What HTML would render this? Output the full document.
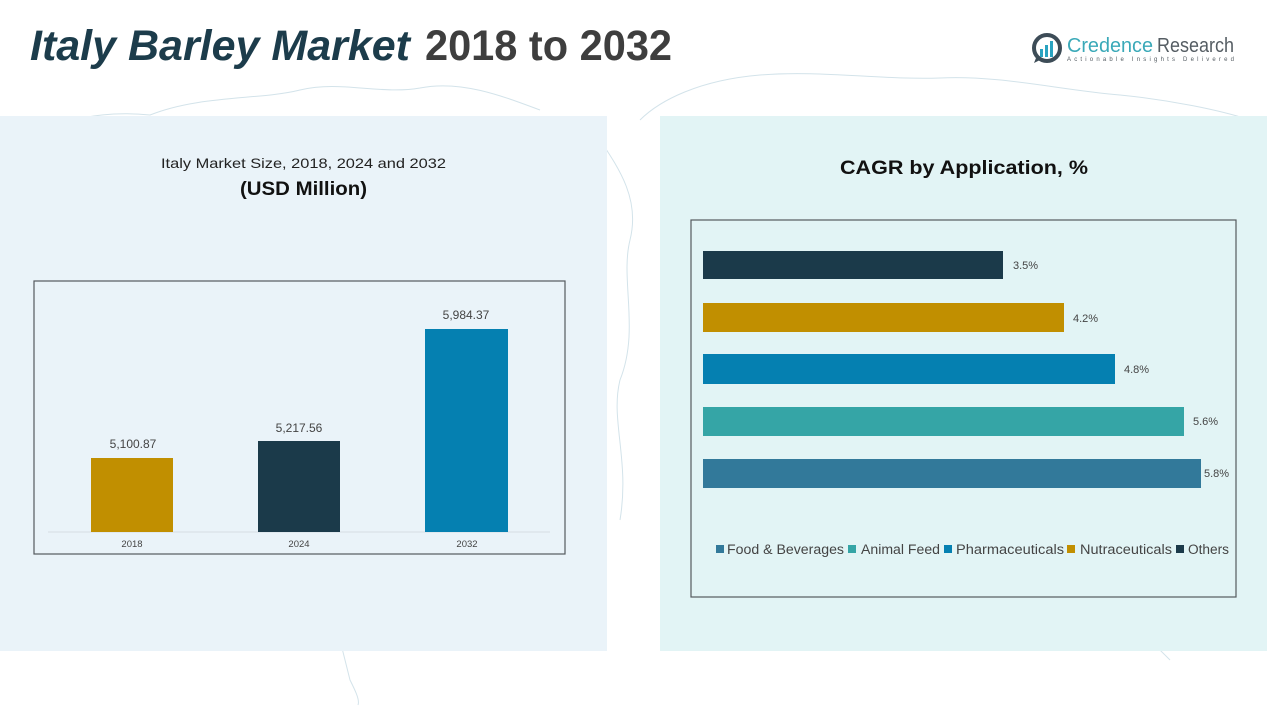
<!DOCTYPE html>
<html>
<head>
<meta charset="utf-8">
<style>
html,body{margin:0;padding:0;background:#ffffff;}
svg{display:block;}
text{font-family:"Liberation Sans","DejaVu Sans",sans-serif;}
</style>
</head>
<body>
<svg width="1267" height="713" viewBox="0 0 1267 713" xmlns="http://www.w3.org/2000/svg">
  <rect x="0" y="0" width="1267" height="713" fill="#ffffff"/>

  <!-- faint map outlines -->
  <g fill="none" stroke="#d3e3ea" stroke-width="1">
    <path d="M20 140 C60 120 100 110 150 115 C200 95 260 100 300 90 C340 80 380 95 420 88 C460 80 500 95 540 110"/>
    <path d="M640 120 C660 100 700 80 760 75 C820 70 880 80 940 78 C1000 75 1060 90 1120 95 C1170 100 1220 110 1250 120"/>
    <path d="M600 140 C620 170 640 200 630 240 C620 280 640 330 620 380 C610 420 630 460 620 520"/>
    <path d="M320 560 C330 600 340 640 350 680 C355 690 360 700 358 705"/>
    <path d="M1100 600 C1130 620 1150 640 1170 660"/>
  </g>

  <!-- panels -->
  <rect x="0" y="116" width="607" height="535" fill="#eaf3f9"/>
  <rect x="660" y="116" width="607" height="535" fill="#e2f4f5"/>

  <!-- title -->
  <text x="30" y="60" font-size="43" font-weight="bold" font-style="italic" fill="#1c3c4b" textLength="380" lengthAdjust="spacingAndGlyphs">Italy Barley Market</text>
  <text x="425" y="60" font-size="43" font-weight="bold" fill="#3e3e3e" textLength="247" lengthAdjust="spacingAndGlyphs">2018 to 2032</text>

  <!-- logo -->
  <circle cx="1047" cy="48" r="13" fill="none" stroke="#3d4c57" stroke-width="4"/>
  <path d="M1036 58 L1034 63 L1040 60 Z" fill="#3d4c57"/>
  <rect x="1040" y="49" width="3" height="8" fill="#2aa3c0"/>
  <rect x="1045" y="45" width="3" height="12" fill="#2aa3c0"/>
  <rect x="1050" y="41" width="3" height="16" fill="#2aa3c0"/>
  <text x="1067" y="52" font-size="20" fill="#3aa9b8" textLength="86" lengthAdjust="spacingAndGlyphs">Credence</text>
  <text x="1157" y="52" font-size="20" fill="#555d63" textLength="77" lengthAdjust="spacingAndGlyphs">Research</text>
  <text x="1067" y="61" font-size="6" fill="#555d63" textLength="167" lengthAdjust="spacing">Actionable Insights Delivered</text>

  <!-- left panel headings -->
  <text x="303.5" y="168" font-size="14" fill="#222" text-anchor="middle" textLength="285" lengthAdjust="spacingAndGlyphs">Italy Market Size, 2018, 2024 and 2032</text>
  <text x="303.5" y="195" font-size="19" font-weight="bold" fill="#111" text-anchor="middle" textLength="127" lengthAdjust="spacingAndGlyphs">(USD Million)</text>

  <!-- left chart box -->
  <rect x="34" y="281" width="531" height="273" fill="none" stroke="#555a5e" stroke-width="1.2"/>
  <line x1="48" y1="532" x2="550" y2="532" stroke="#d6dee4" stroke-width="1"/>
  <rect x="91" y="458" width="82" height="74" fill="#c18f00"/>
  <rect x="258" y="441" width="82" height="91" fill="#1b3a4a"/>
  <rect x="425" y="329" width="83" height="203" fill="#0580b1"/>
  <g font-size="12" fill="#444" text-anchor="middle">
    <text x="133" y="448">5,100.87</text>
    <text x="299" y="432">5,217.56</text>
    <text x="466" y="319">5,984.37</text>
  </g>
  <g font-size="9.5" fill="#444" text-anchor="middle">
    <text x="132" y="547">2018</text>
    <text x="299" y="547">2024</text>
    <text x="467" y="547">2032</text>
  </g>

  <!-- right panel heading -->
  <text x="964" y="174" font-size="19" font-weight="bold" fill="#111" text-anchor="middle" textLength="248" lengthAdjust="spacingAndGlyphs">CAGR by Application, %</text>

  <!-- right chart box -->
  <rect x="691" y="220" width="545" height="377" fill="none" stroke="#555a5e" stroke-width="1.2"/>
  <rect x="703" y="251" width="300" height="28" fill="#1b3a4a"/>
  <rect x="703" y="303" width="361" height="29" fill="#c18f00"/>
  <rect x="703" y="354" width="412" height="30" fill="#0580b1"/>
  <rect x="703" y="407" width="481" height="29" fill="#35a5a6"/>
  <rect x="703" y="459" width="498" height="29" fill="#32799a"/>
  <g font-size="11" fill="#444">
    <text x="1013" y="269">3.5%</text>
    <text x="1073" y="322">4.2%</text>
    <text x="1124" y="373">4.8%</text>
    <text x="1193" y="425">5.6%</text>
    <text x="1204" y="477">5.8%</text>
  </g>

  <!-- legend -->
  <rect x="716" y="545" width="8" height="8" fill="#32799a"/>
  <text x="727" y="554" font-size="13.5" fill="#444" textLength="117" lengthAdjust="spacingAndGlyphs">Food &amp; Beverages</text>
  <rect x="848" y="545" width="8" height="8" fill="#35a5a6"/>
  <text x="861" y="554" font-size="13.5" fill="#444" textLength="79" lengthAdjust="spacingAndGlyphs">Animal Feed</text>
  <rect x="944" y="545" width="8" height="8" fill="#0580b1"/>
  <text x="956" y="554" font-size="13.5" fill="#444" textLength="108" lengthAdjust="spacingAndGlyphs">Pharmaceuticals</text>
  <rect x="1067" y="545" width="8" height="8" fill="#c18f00"/>
  <text x="1080" y="554" font-size="13.5" fill="#444" textLength="92" lengthAdjust="spacingAndGlyphs">Nutraceuticals</text>
  <rect x="1176" y="545" width="8" height="8" fill="#1b3a4a"/>
  <text x="1188" y="554" font-size="13.5" fill="#444" textLength="41" lengthAdjust="spacingAndGlyphs">Others</text>
</svg>
</body>
</html>
